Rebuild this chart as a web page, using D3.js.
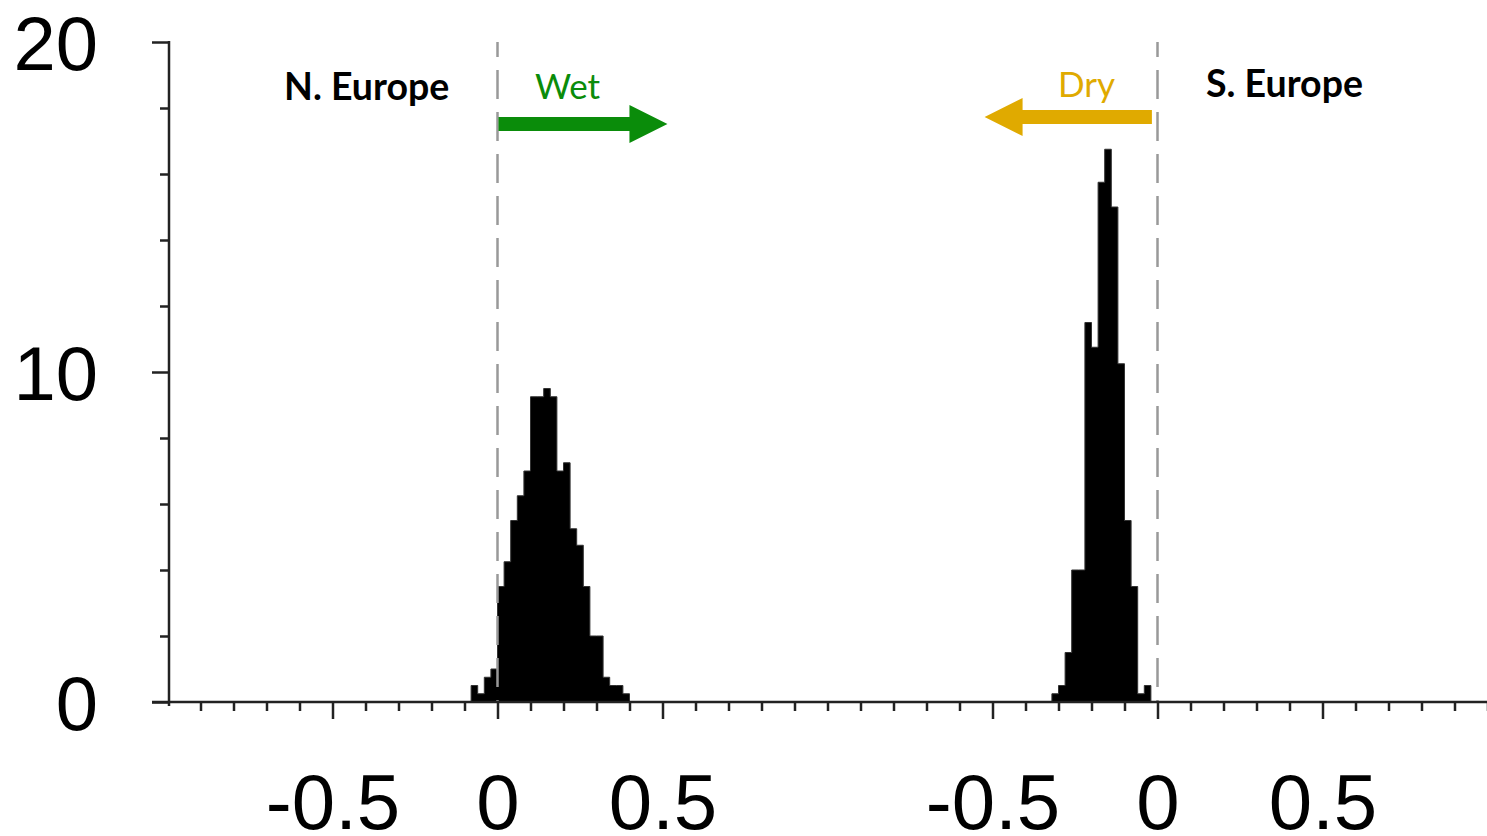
<!DOCTYPE html>
<html>
<head>
<meta charset="utf-8">
<script src="https://cdn.jsdelivr.net/npm/d3@7"></script>
<style>
  html, body { margin: 0; padding: 0; background: #fff; }
  svg { display: block; }
</style>
</head>
<body>
<div class="chart"></div>
<script>
// bin width of both histograms
const binWidth = 0.02;

// N. Europe: left bin edges and density
const northEdges = [-0.08, -0.06, -0.04, -0.02, 0.00, 0.02, 0.04, 0.06, 0.08, 0.10, 0.12, 0.14,
  0.16, 0.18, 0.20, 0.22, 0.24, 0.26, 0.28, 0.30, 0.32, 0.34, 0.36, 0.38];
const northValues = [0.5, 0.25, 0.75, 1.0, 3.5, 4.25, 5.5, 6.25, 7.0, 9.25, 9.25, 9.5,
  9.25, 7.0, 7.25, 5.25, 4.75, 3.5, 2.0, 2.0, 0.75, 0.5, 0.5, 0.25];

// S. Europe: left bin edges and density
const southEdges = [-0.32, -0.30, -0.28, -0.26, -0.24, -0.22, -0.20, -0.18, -0.16, -0.14,
  -0.12, -0.10, -0.08, -0.06, -0.04];
const southValues = [0.25, 0.5, 1.5, 4.0, 4.0, 11.5, 10.75, 15.75, 16.75, 15.0,
  10.25, 5.5, 3.5, 0.25, 0.5];

const xMajorTicks = [-0.5, 0, 0.5];
const xMinorTicks = [-0.9, -0.8, -0.7, -0.6, -0.4, -0.3, -0.2, -0.1, 0.1, 0.2, 0.3, 0.4, 0.6, 0.7, 0.8, 0.9, 1.0];
const yMajorTicks = [0, 10, 20];
const yMinorTicks = [2, 4, 6, 8, 12, 14, 16, 18];

const width = 1487;
const height = 836;

let svg = d3.select('.chart')
  .append('svg')
  .attr('width', width)
  .attr('height', height);

// two panels side by side, each spanning -1..1
let xLeft = d3.scaleLinear().domain([-1, 1]).range([167.5, 827.5]);
let xRight = d3.scaleLinear().domain([-1, 1]).range([827.5, 1487.5]);
let y = d3.scaleLinear().domain([0, 20]).range([702, 42]);

// histograms as stepped areas
function drawHist(xScale, edges, values) {
  let pts = edges.map((e, i) => ({ x: e, v: values[i] }));
  pts.push({ x: edges[edges.length - 1] + binWidth, v: values[values.length - 1] });
  let area = d3.area()
    .x(d => xScale(d.x))
    .y0(y(0))
    .y1(d => y(d.v))
    .curve(d3.curveStepAfter);
  svg.append('path')
    .datum(pts)
    .attr('d', area)
    .style('fill', '#000')
    .style('stroke', '#333')
    .style('stroke-width', 1);
}
drawHist(xLeft, northEdges, northValues);
drawHist(xRight, southEdges, southValues);

// dashed zero lines
[xLeft(0), xRight(0)].forEach(x => {
  svg.append('line')
    .attr('x1', x).attr('x2', x)
    .attr('y1', y(20)).attr('y2', y(0))
    .style('stroke', '#999')
    .style('stroke-width', 2.5)
    .style('stroke-dasharray', '29,13')
    .style('stroke-dashoffset', 14);
});

const tickFont = '"Liberation Sans", Arial, Helvetica, sans-serif';

// x axes
function drawXAxis(xScale) {
  let gMinor = svg.append('g')
    .attr('transform', `translate(0, ${y(0)})`)
    .call(d3.axisBottom(xScale).tickValues(xMinorTicks).tickSize(9).tickFormat(''));
  let gMajor = svg.append('g')
    .attr('transform', `translate(0, ${y(0)})`)
    .call(d3.axisBottom(xScale).tickValues(xMajorTicks).tickSize(17).tickPadding(55)
      .tickFormat(d => d === 0 ? '0' : String(d)));
  [gMinor, gMajor].forEach(g => {
    g.select('.domain').remove();
    g.selectAll('line').style('stroke', '#222').style('stroke-width', 2.5);
  });
  gMajor.selectAll('text')
    .style('font-family', tickFont)
    .style('font-size', '78px')
    .style('fill', '#000');
}
drawXAxis(xLeft);
drawXAxis(xRight);

svg.append('line')
  .attr('x1', 152).attr('x2', width)
  .attr('y1', y(0)).attr('y2', y(0))
  .style('stroke', '#222')
  .style('stroke-width', 2.5);

// y axis
let yMinor = svg.append('g')
  .attr('transform', 'translate(169, 0)')
  .call(d3.axisLeft(y).tickValues(yMinorTicks).tickSize(9).tickFormat(''));
let yMajor = svg.append('g')
  .attr('transform', 'translate(169, 0)')
  .call(d3.axisLeft(y).tickValues(yMajorTicks).tickSize(17).tickPadding(54));
[yMinor, yMajor].forEach(g => {
  g.select('.domain').remove();
  g.selectAll('line').style('stroke', '#222').style('stroke-width', 2.5);
});
yMajor.selectAll('text')
  .attr('dy', '0.36em')
  .style('font-family', tickFont)
  .style('font-size', '76px')
  .style('fill', '#000');
svg.append('line')
  .attr('x1', 169).attr('x2', 169)
  .attr('y1', y(20) - 1).attr('y2', y(0) + 4)
  .style('stroke', '#222')
  .style('stroke-width', 2.5);

// annotations
const labelFont = 'Lato, "Open Sans", sans-serif';
const green = '#0a8c0a';
const gold = '#e0aa00';

svg.append('text')
  .attr('x', 284).attr('y', 100)
  .style('font-family', labelFont).style('font-weight', 700).style('font-size', '37.5px')
  .style('fill', '#000')
  .text('N. Europe');

svg.append('text')
  .attr('x', 1206).attr('y', 97)
  .style('font-family', labelFont).style('font-weight', 700).style('font-size', '37.5px')
  .style('fill', '#000')
  .text('S. Europe');

svg.append('text')
  .attr('x', 535).attr('y', 99)
  .style('font-family', labelFont).style('font-size', '35px')
  .style('fill', green)
  .text('Wet');

svg.append('text')
  .attr('x', 1058).attr('y', 97)
  .style('font-family', labelFont).style('font-size', '35px')
  .style('fill', gold)
  .text('Dry');

function drawArrow(x0, x1, cy, color) {
  let dir = x1 > x0 ? 1 : -1;
  let headLen = 38, half = 7, headHalf = 19;
  let xb = x1 - dir * headLen;
  let pts = [[x0, cy - half], [xb, cy - half], [xb, cy - headHalf], [x1, cy],
    [xb, cy + headHalf], [xb, cy + half], [x0, cy + half]];
  svg.append('path')
    .attr('d', d3.line()(pts) + 'Z')
    .style('fill', color);
}
drawArrow(xLeft(0) + 1, xLeft(0.515), 124, green);
drawArrow(xRight(-0.017), xRight(-0.524), 117, gold);
</script>
</body>
</html>
